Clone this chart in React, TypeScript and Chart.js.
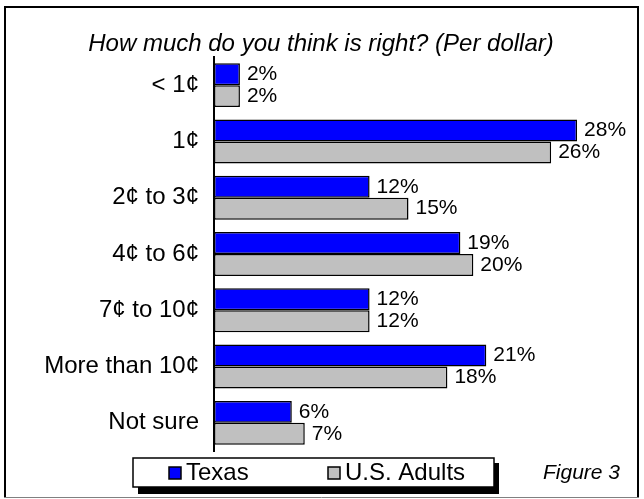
import React, { useEffect, useRef } from "react";
import { Chart, registerables } from "chart.js";

Chart.register(...registerables);

const categories = ["< 1¢", "1¢", "2¢ to 3¢", "4¢ to 6¢", "7¢ to 10¢", "More than 10¢", "Not sure"];
const texas = [2, 28, 12, 19, 12, 21, 6];
const usAdults = [2, 26, 15, 20, 12, 18, 7];
const seriesNames = ["Texas", "U.S. Adults"];
const seriesColors = ["#0000FF", "#C0C0C0"];
const titleText = "How much do you think is right? (Per dollar)";
const figureText = "Figure 3";

const FONT = "'Liberation Sans', Arial, sans-serif";

const decorPlugin = {
  id: "decor",
  beforeDraw(chart: any) {
    const ctx = chart.ctx;
    ctx.save();
    ctx.fillStyle = "#ffffff";
    ctx.fillRect(0, 0, chart.width, chart.height);
    ctx.restore();
  },
  afterDraw(chart: any) {
    const ctx = chart.ctx;
    ctx.save();
    // outer frame
    ctx.strokeStyle = "#000";
    ctx.lineWidth = 2;
    ctx.beginPath();
    ctx.moveTo(5, 497);
    ctx.lineTo(5, 7);
    ctx.lineTo(638, 7);
    ctx.lineTo(638, 497);
    ctx.stroke();
    ctx.strokeStyle = "#808080";
    ctx.lineWidth = 1;
    ctx.beginPath();
    ctx.moveTo(4, 497.5);
    ctx.lineTo(639, 497.5);
    ctx.stroke();

    // title
    ctx.fillStyle = "#000";
    ctx.font = `italic 24px ${FONT}`;
    ctx.textAlign = "center";
    ctx.textBaseline = "middle";
    ctx.fillText(titleText, 321, 44);

    // value labels
    ctx.font = `21px ${FONT}`;
    ctx.textAlign = "left";
    ctx.textBaseline = "middle";
    chart.data.datasets.forEach((ds: any, di: number) => {
      const meta = chart.getDatasetMeta(di);
      meta.data.forEach((bar: any, i: number) => {
        ctx.fillText(ds.data[i] + "%", bar.x + 7, bar.y);
      });
    });

    // legend box with shadow
    const lx = 133, ly = 458, lw = 361, lh = 29;
    ctx.fillStyle = "#000";
    ctx.fillRect(lx + 5, ly + 5, lw, lh + 2);
    ctx.fillStyle = "#fff";
    ctx.fillRect(lx, ly, lw, lh);
    ctx.strokeStyle = "#000";
    ctx.lineWidth = 1.5;
    ctx.strokeRect(lx, ly, lw, lh);

    const items = [
      { x: 169, tx: 186 },
      { x: 328, tx: 345 },
    ];
    ctx.font = `24px ${FONT}`;
    ctx.textBaseline = "middle";
    ctx.textAlign = "left";
    items.forEach((it, i) => {
      ctx.fillStyle = seriesColors[i];
      ctx.fillRect(it.x, 467, 12, 12);
      ctx.strokeStyle = "#000";
      ctx.lineWidth = 1.5;
      ctx.strokeRect(it.x, 467, 12, 12);
      ctx.fillStyle = "#000";
      ctx.fillText(seriesNames[i], it.tx, 473);
    });

    // figure label
    ctx.font = `italic 21px ${FONT}`;
    ctx.textAlign = "right";
    ctx.fillText(figureText, 620, 473);
    ctx.restore();
  },
};

export default function App() {
  const ref = useRef<HTMLCanvasElement | null>(null);
  useEffect(() => {
    if (!ref.current) return;
    const chart = new Chart(ref.current, {
      type: "bar",
      data: {
        labels: categories,
        datasets: [
          {
            label: seriesNames[0],
            data: texas,
            backgroundColor: seriesColors[0],
            borderColor: "#000",
            borderWidth: 1.5,
            borderSkipped: false,
            categoryPercentage: 0.78,
            barPercentage: 1,
          },
          {
            label: seriesNames[1],
            data: usAdults,
            backgroundColor: seriesColors[1],
            borderColor: "#000",
            borderWidth: 1.5,
            borderSkipped: false,
            categoryPercentage: 0.78,
            barPercentage: 1,
          },
        ],
      },
      options: {
        indexAxis: "y",
        animation: false,
        responsive: false,
        maintainAspectRatio: false,
        layout: { padding: { top: 57, left: 0, right: 41, bottom: 48 } },
        plugins: {
          legend: { display: false },
          title: { display: false },
          tooltip: { enabled: false },
        },
        scales: {
          x: { display: false, min: 0, max: 30 },
          y: {
            afterFit(scale: any) {
              scale.width = 214;
            },
            grid: { display: false, drawTicks: false },
            border: { display: true, color: "#000", width: 2 },
            ticks: {
              color: "#000",
              padding: 15,
              font: { family: FONT, size: 24 },
            },
          },
        },
      },
      plugins: [decorPlugin],
    } as any);
    return () => chart.destroy();
  }, []);
  return (
    <div style={{ position: "fixed", left: 0, top: 0, width: 644, height: 499 }}>
      <canvas ref={ref} width={644} height={499} style={{ width: 644, height: 499, display: "block" }} />
    </div>
  );
}
